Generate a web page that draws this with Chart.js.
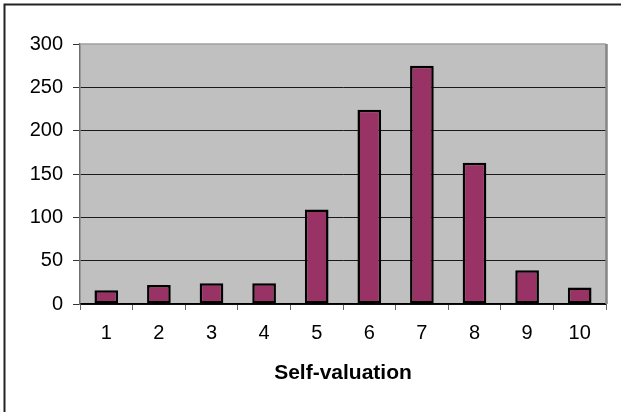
<!DOCTYPE html>
<html>
<head>
<meta charset="utf-8">
<script src="https://cdn.jsdelivr.net/npm/chart.js@4"></script>
<style>
  html, body { margin: 0; padding: 0; background: #fff; }
  canvas { display: block; }
</style>
</head>
<body>
<canvas id="selfValuation" width="621" height="412"></canvas>
<script>
const categories = ['1', '2', '3', '4', '5', '6', '7', '8', '9', '10'];
const counts = [16, 22, 24, 24, 109, 224, 275, 163, 39, 19];
const yTicks = [0, 50, 100, 150, 200, 250, 300];

// gray plot background, plot frame and the outer chart frame
const frame = {
    id: 'frame',
    beforeDraw(chart) {
        const { ctx, chartArea: a } = chart;
        ctx.save();
        ctx.fillStyle = '#c0c0c0';
        ctx.fillRect(a.left, a.top, a.right - a.left, a.bottom - a.top);
        ctx.restore();
    },
    afterDraw(chart) {
        const { ctx, chartArea: a } = chart;
        ctx.save();
        ctx.strokeStyle = '#a0a0a0';
        ctx.lineWidth = 1.5;
        ctx.beginPath();
        ctx.moveTo(a.left, a.top);
        ctx.lineTo(a.right, a.top);
        ctx.stroke();
        ctx.strokeStyle = '#858585';
        ctx.lineWidth = 2.5;
        ctx.beginPath();
        ctx.moveTo(a.right + 0.5, a.top);
        ctx.lineTo(a.right + 0.5, a.bottom);
        ctx.stroke();
        ctx.strokeStyle = '#222';
        ctx.lineWidth = 2;
        ctx.beginPath();
        ctx.moveTo(4.5, chart.height);
        ctx.lineTo(4.5, 4.5);
        ctx.lineTo(chart.width, 4.5);
        ctx.stroke();
        ctx.restore();
    }
};

const ctx = document.getElementById('selfValuation').getContext('2d');
const chart = new Chart(ctx, {
    type: 'bar',
    data: {
        labels: categories,
        datasets: [{
            data: counts,
            backgroundColor: '#993366',
            borderColor: '#000',
            borderWidth: 2.5,
            borderSkipped: false,
            barPercentage: 0.45,
            categoryPercentage: 1
        }]
    },
    options: {
        responsive: false,
        animation: false,
        layout: { padding: { left: 0, top: 44, right: 15, bottom: 0 } },
        plugins: {
            legend: { display: false },
            tooltip: { enabled: false }
        },
        scales: {
            x: {
                afterFit: s => { s.height = 108; },
                grid: {
                    offset: true,
                    drawOnChartArea: false,
                    tickLength: 6,
                    color: '#666'
                },
                border: { color: '#000', width: 1.5 },
                ticks: {
                    color: '#000',
                    padding: 11,
                    font: { family: 'Liberation Sans, Arial', size: 20 }
                },
                title: {
                    display: true,
                    text: 'Self-valuation',
                    color: '#000',
                    padding: { top: 0, bottom: 26 },
                    font: { family: 'Liberation Sans, Arial', size: 21, weight: 'bold' }
                }
            },
            y: {
                min: 0,
                max: 300,
                afterFit: s => { s.width = 80; },
                afterBuildTicks: s => { s.ticks = yTicks.map(v => ({ value: v })); },
                grid: {
                    color: c => (c.tick && c.tick.value === 300 ? 'rgba(0,0,0,0)' : '#1a1a1a'),
                    tickColor: '#333',
                    tickLength: 7,
                    lineWidth: 1
                },
                border: { color: '#707070', width: 1.5 },
                ticks: {
                    color: '#000',
                    padding: 10,
                    font: { family: 'Liberation Sans, Arial', size: 20 }
                }
            }
        }
    },
    plugins: [frame]
});
</script>
</body>
</html>
